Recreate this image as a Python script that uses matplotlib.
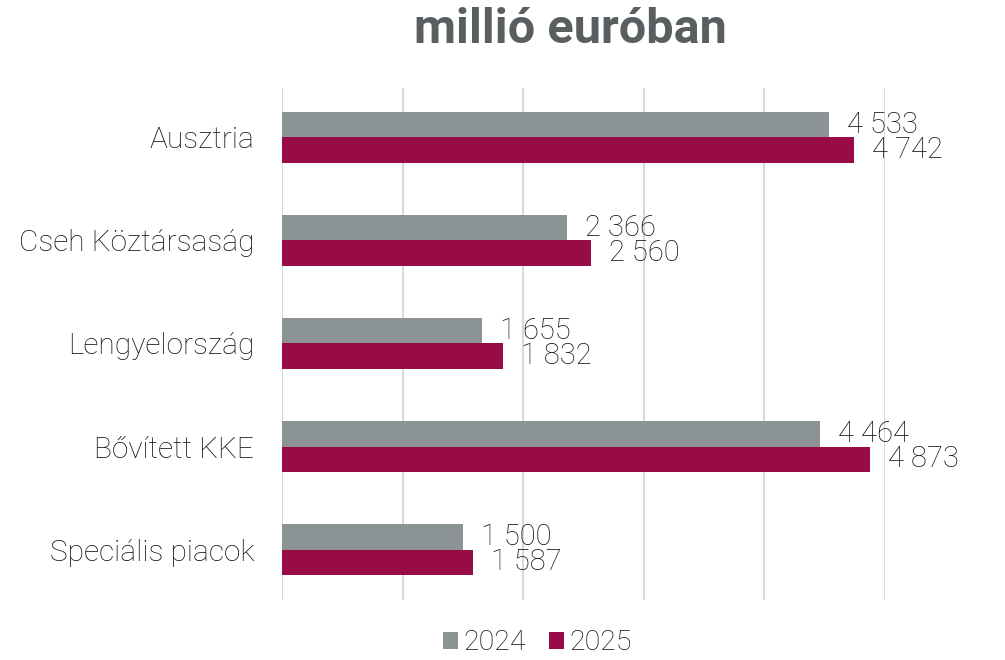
import matplotlib.pyplot as plt
import numpy as np

categories = ['Ausztria', 'Cseh Köztársaság', 'Lengyelország', 'Bővített KKE', 'Speciális piacok']
vals_2024 = [4533, 2366, 1655, 4464, 1500]
vals_2025 = [4742, 2560, 1832, 4873, 1587]
series_names = ['2024', '2025']

GRAY = '#8C9394'
RED = '#970C47'
TEXT = '#111111'

plt.rcParams['font.family'] = ['Roboto', 'DejaVu Sans']

fig = plt.figure(figsize=(10.05, 6.6), dpi=100)
ax = fig.add_axes([0.2806, 0.0909, 0.6, 0.7758])

y = np.arange(len(categories))
h = 0.25
b1 = ax.barh(y - h / 2, vals_2024, h, color=GRAY, label=series_names[0], zorder=2)
b2 = ax.barh(y + h / 2, vals_2025, h, color=RED, label=series_names[1], zorder=2)


def fmt(v):
    return f'{v:,}'.replace(',', ' ')


for bars, vals in [(b1, vals_2024), (b2, vals_2025)]:
    for bar, v in zip(bars, vals):
        ax.text(bar.get_width() + 150, bar.get_y() + bar.get_height() / 2, fmt(v),
                va='center', ha='left', fontsize=21, fontweight='light', color=TEXT)

ax.set_xlim(0, 5000)
ax.set_ylim(len(categories) - 0.51, -0.48)
ax.set_xticks(np.arange(0, 5001, 1000))
ax.set_xticklabels([])
ax.set_yticks(y)
ax.set_yticklabels(categories, fontsize=21.5, fontweight='light', color=TEXT)
ax.tick_params(axis='both', length=0)
ax.tick_params(axis='y', pad=20)
ax.grid(axis='x', color='#D9D9D9', linewidth=1.5, zorder=0)
for s in ax.spines.values():
    s.set_visible(False)

fig.text(0.568, 0.955, 'millió euróban', ha='center', va='center',
         fontsize=35, fontweight='bold', color='#595F61')

fig.legend(handles=[b1, b2], loc='center', bbox_to_anchor=(0.535, 0.026), ncol=2,
           frameon=False, handlelength=0.53, handleheight=0.53,
           handletextpad=0.2, columnspacing=0.8, borderpad=0.2,
           prop={'family': 'Roboto', 'weight': 'light', 'size': 20.5})
for t in fig.legends[0].get_texts():
    t.set_color(TEXT)

fig.savefig('out.png', dpi=100)
